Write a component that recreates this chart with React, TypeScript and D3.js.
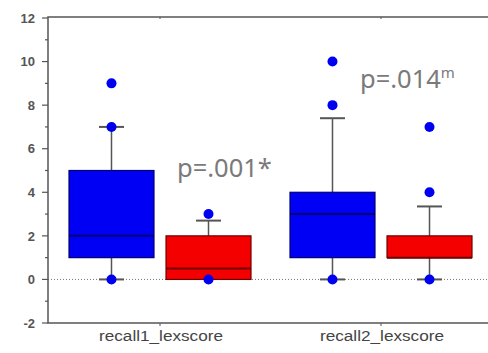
import React from 'react';
import * as d3 from 'd3';

const categories = ['recall1_lexscore', 'recall2_lexscore'];
const groups = ['blue', 'red'];

// box stats per category, for each group
const blueQ1 = [1, 1];
const blueMedian = [2, 3];
const blueQ3 = [5, 4];
const blueLow = [0, 0];
const blueHigh = [7, 7.4];
const bluePoints = [[9, 7, 0], [10, 8, 0]];

const redQ1 = [0, 1];
const redMedian = [0.5, 1];
const redQ3 = [2, 2];
const redLow = [0, 0];
const redHigh = [2.7, 3.35];
const redPoints = [[3, 0], [7, 4, 0]];

const yTicks = [-2, 0, 2, 4, 6, 8, 10, 12];
const yMinor = [-1, 1, 3, 5, 7, 9, 11];

const pLabels = ['p=.001*', 'p=.014'];
const pSup = ['', 'm'];
const pAt = [4.7, 8.8];

const width = 488;
const height = 353;
const left = 48;
const top = 18;
const bottom = 323;
const right = 493;

const y = d3.scaleLinear().domain([-2, 12]).range([bottom, top]);
const x = d3.scalePoint().domain(categories).range([left, right]).padding(0.5068);
const inner = d3.scaleBand().domain(groups).range([-91, 91]).paddingInner(0.124);

const colors: Record<string, string> = { blue: '#0000f5', red: '#f50000' };
const edges: Record<string, string> = { blue: '#000070', red: '#700000' };

const stats: Record<string, any> = {
  blue: { q1: blueQ1, med: blueMedian, q3: blueQ3, lo: blueLow, hi: blueHigh, pts: bluePoints },
  red: { q1: redQ1, med: redMedian, q3: redQ3, lo: redLow, hi: redHigh, pts: redPoints }
};

export default function App() {
  const bw = inner.bandwidth();
  const cap = 25;
  return (
    <svg width={width} height={height} style={{ position: 'absolute', left: 0, top: 0, background: '#fff' }}
      fontFamily="'Liberation Sans', Arial, sans-serif">
      {/* zero line */}
      <line x1={left} x2={right} y1={y(0)} y2={y(0)} stroke="#777" strokeWidth={1} strokeDasharray="1,2" />

      {categories.map((c, i) => (
        <g key={c}>
          {groups.map(g => {
            const s = stats[g];
            const cx = (x(c) as number) + (inner(g) as number) + bw / 2;
            const x0 = cx - bw / 2;
            return (
              <g key={g}>
                <line x1={cx} x2={cx} y1={y(s.q3[i])} y2={y(s.hi[i])} stroke="#555" strokeWidth={1.5} />
                <line x1={cx - cap / 2} x2={cx + cap / 2} y1={y(s.hi[i])} y2={y(s.hi[i])} stroke="#555" strokeWidth={2} />
                {s.lo[i] < s.q1[i] && (
                  <g>
                    <line x1={cx} x2={cx} y1={y(s.q1[i])} y2={y(s.lo[i])} stroke="#555" strokeWidth={1.5} />
                    <line x1={cx - cap / 2} x2={cx + cap / 2} y1={y(s.lo[i])} y2={y(s.lo[i])} stroke="#555" strokeWidth={2} />
                  </g>
                )}
                <rect x={x0} width={bw} y={y(s.q3[i])} height={y(s.q1[i]) - y(s.q3[i])}
                  fill={colors[g]} stroke={edges[g]} strokeWidth={1.2} />
                <line x1={x0} x2={x0 + bw} y1={y(s.med[i])} y2={y(s.med[i])} stroke={edges[g]} strokeWidth={2} />
                {s.pts[i].map((v: number, k: number) => (
                  <circle key={k} cx={cx} cy={y(v)} r={5} fill="#0000f0" />
                ))}
              </g>
            );
          })}
          <text x={(x(c) as number) + 1} y={341} textAnchor="middle" fontSize={14} fill="#444"
            textLength={124} lengthAdjust="spacingAndGlyphs">{c}</text>
          <line x1={x(c)} x2={x(c)} y1={bottom} y2={bottom + 3} stroke="#555" />
          <line x1={x(c)} x2={x(c)} y1={top - 1} y2={top + 1} stroke="#555" />
        </g>
      ))}

      {/* frame */}
      <rect x={left} y={top - 1} width={right - left} height={bottom - top + 1} fill="none" stroke="#555" strokeWidth={1.5} />

      {yTicks.map(t => (
        <g key={t}>
          <line x1={left - 6} x2={left} y1={y(t)} y2={y(t)} stroke="#555" strokeWidth={1.2} />
          <text x={35} y={y(t)} dy="0.36em" textAnchor="end" fontSize={13} fontWeight="bold" fill="#555">{t}</text>
        </g>
      ))}
      {yMinor.map(t => (
        <line key={t} x1={left - 3} x2={left} y1={y(t)} y2={y(t)} stroke="#555" strokeWidth={1.2} />
      ))}

      {pLabels.map((p, i) => (
        <text key={p} x={(x(categories[i]) as number) + (i === 0 ? 17 : -21)} y={y(pAt[i])}
          fontFamily="'Noto Sans', sans-serif" fontSize={25.5} fill="#7a7a7a">
          {p}
          {pSup[i] && <tspan fontSize={15} dy={-10}>{pSup[i]}</tspan>}
        </text>
      ))}
    </svg>
  );
}
